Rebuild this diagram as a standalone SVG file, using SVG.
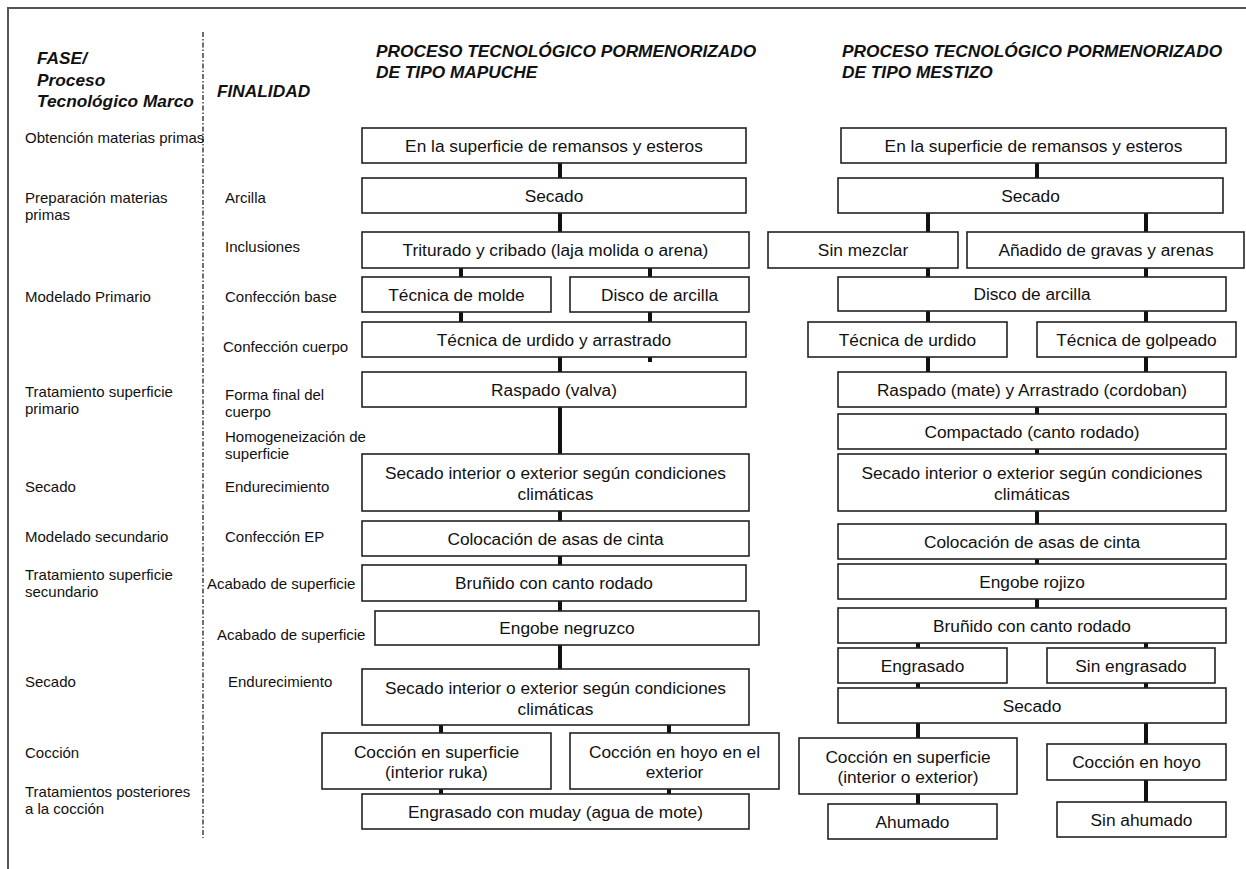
<svg xmlns="http://www.w3.org/2000/svg" width="1246" height="869" viewBox="0 0 1246 869">
<style>
.bg{fill:#fff}
.frame{stroke:#555;stroke-width:2;fill:none}
.dash{stroke:#222;stroke-width:1.3;stroke-dasharray:5 2 1.5 2;fill:none}
.box{fill:#fff;stroke:#222;stroke-width:1.6}
.conn{stroke:#111;stroke-width:4;fill:none}
text{font-family:"Liberation Sans",Arial,sans-serif;fill:#111}
.t{font-size:17.3px;text-anchor:middle}
.lbl{font-size:15px}
.hdr{font-size:17.3px;font-weight:bold;font-style:italic}
</style>
<rect class="bg" x="0" y="0" width="1246" height="869"/>
<g id="frame">
<path class="frame" d="M8,869 V8 H1246"/>
<line class="dash" x1="203" y1="32" x2="203" y2="838"/>
</g>
<g id="headers">
<text class="hdr" x="37" y="64">FASE/</text>
<text class="hdr" x="37" y="85.5">Proceso</text>
<text class="hdr" x="37" y="107">Tecnológico Marco</text>
<text class="hdr" x="217" y="97">FINALIDAD</text>
<text class="hdr" x="376" y="57">PROCESO TECNOLÓGICO PORMENORIZADO</text>
<text class="hdr" x="376" y="78">DE TIPO MAPUCHE</text>
<text class="hdr" x="842" y="57">PROCESO TECNOLÓGICO PORMENORIZADO</text>
<text class="hdr" x="842" y="78">DE TIPO MESTIZO</text>
</g>
<g id="fase-labels">
<text class="lbl" x="25" y="143">Obtención materias primas</text>
<text class="lbl" x="25" y="203">Preparación materias</text>
<text class="lbl" x="25" y="220">primas</text>
<text class="lbl" x="25" y="302">Modelado Primario</text>
<text class="lbl" x="25" y="397">Tratamiento superficie</text>
<text class="lbl" x="25" y="414">primario</text>
<text class="lbl" x="25" y="492">Secado</text>
<text class="lbl" x="25" y="542">Modelado secundario</text>
<text class="lbl" x="25" y="580">Tratamiento superficie</text>
<text class="lbl" x="25" y="597">secundario</text>
<text class="lbl" x="25" y="687">Secado</text>
<text class="lbl" x="25" y="758">Cocción</text>
<text class="lbl" x="25" y="797">Tratamientos posteriores</text>
<text class="lbl" x="25" y="814">a la cocción</text>
</g>
<g id="finalidad-labels">
<text class="lbl" x="225" y="203">Arcilla</text>
<text class="lbl" x="225" y="252">Inclusiones</text>
<text class="lbl" x="225" y="302">Confección base</text>
<text class="lbl" x="223" y="352">Confección cuerpo</text>
<text class="lbl" x="225" y="400">Forma final del</text>
<text class="lbl" x="225" y="417">cuerpo</text>
<text class="lbl" x="225" y="442">Homogeneización de</text>
<text class="lbl" x="225" y="459">superficie</text>
<text class="lbl" x="225" y="492">Endurecimiento</text>
<text class="lbl" x="225" y="542">Confección EP</text>
<text class="lbl" x="207" y="589">Acabado de superficie</text>
<text class="lbl" x="217" y="640">Acabado de superficie</text>
<text class="lbl" x="228" y="687">Endurecimiento</text>
</g>
<g id="connectors">
<path class="conn" d="M560,163V178 M560,213V232 M461,268V277 M461,312V322 M650,268V277 M650,312V322 M650,357V362 M560,357V372 M560,407V454 M560,511V521 M560,556V565 M560,601V611 M560,645V669 M441,725V733 M441,789V794 M669,725V733 M669,789V794"/>
<path class="conn" d="M1037,163V178 M928,213V232 M928,268V277 M928,311V322 M928,357V372 M1146,213V232 M1146,268V277 M1146,311V322 M1146,357V372 M1037,407V414 M1037,449V454 M1037,511V524 M1037,559V564 M1037,599V608 M918,643V648 M918,683V688 M918,723V738 M918,794V804 M1146,643V648 M1146,683V688 M1146,723V744 M1146,780V802"/>
</g>
<g id="m1"><rect class="box" x="362" y="128" width="384" height="35"/><text class="t" x="554" y="152">En la superficie de remansos y esteros</text></g>
<g id="m2"><rect class="box" x="362" y="178" width="384" height="35"/><text class="t" x="554" y="202">Secado</text></g>
<g id="m3"><rect class="box" x="362" y="232" width="387" height="36"/><text class="t" x="555.5" y="256">Triturado y cribado (laja molida o arena)</text></g>
<g id="m4a"><rect class="box" x="362" y="277" width="189" height="35"/><text class="t" x="456.5" y="301">Técnica de molde</text></g>
<g id="m4b"><rect class="box" x="570" y="277" width="179" height="35"/><text class="t" x="659.5" y="301">Disco de arcilla</text></g>
<g id="m5"><rect class="box" x="362" y="322" width="384" height="35"/><text class="t" x="554" y="346">Técnica de urdido y arrastrado</text></g>
<g id="m6"><rect class="box" x="362" y="372" width="384" height="35"/><text class="t" x="554" y="396">Raspado (valva)</text></g>
<g id="m7"><rect class="box" x="362" y="454" width="387" height="57"/><text class="t" x="555.5" y="479">Secado interior o exterior según condiciones</text><text class="t" x="555.5" y="500">climáticas</text></g>
<g id="m8"><rect class="box" x="362" y="521" width="387" height="35"/><text class="t" x="555.5" y="545">Colocación de asas de cinta</text></g>
<g id="m9"><rect class="box" x="362" y="565" width="384" height="36"/><text class="t" x="554" y="589">Bruñido con canto rodado</text></g>
<g id="m10"><rect class="box" x="375" y="611" width="384" height="34"/><text class="t" x="567" y="634">Engobe negruzco</text></g>
<g id="m11"><rect class="box" x="362" y="669" width="387" height="56"/><text class="t" x="555.5" y="694">Secado interior o exterior según condiciones</text><text class="t" x="555.5" y="715">climáticas</text></g>
<g id="m12a"><rect class="box" x="322" y="733" width="229" height="56"/><text class="t" x="436.5" y="758">Cocción en superficie</text><text class="t" x="436.5" y="778">(interior ruka)</text></g>
<g id="m12b"><rect class="box" x="570" y="733" width="209" height="56"/><text class="t" x="674.5" y="758">Cocción en hoyo en el</text><text class="t" x="674.5" y="778">exterior</text></g>
<g id="m13"><rect class="box" x="362" y="794" width="387" height="35"/><text class="t" x="555.5" y="818">Engrasado con muday (agua de mote)</text></g>
<g id="z1"><rect class="box" x="841" y="128" width="385" height="35"/><text class="t" x="1033.5" y="152">En la superficie de remansos y esteros</text></g>
<g id="z2"><rect class="box" x="838" y="178" width="385" height="35"/><text class="t" x="1030.5" y="202">Secado</text></g>
<g id="z3a"><rect class="box" x="768" y="232" width="190" height="36"/><text class="t" x="863" y="256">Sin mezclar</text></g>
<g id="z3b"><rect class="box" x="967" y="232" width="277" height="36"/><text class="t" x="1106" y="256">Añadido de gravas y arenas</text></g>
<g id="z4"><rect class="box" x="838" y="277" width="388" height="34"/><text class="t" x="1032" y="300">Disco de arcilla</text></g>
<g id="z5a"><rect class="box" x="808" y="322" width="199" height="35"/><text class="t" x="907.5" y="346">Técnica de urdido</text></g>
<g id="z5b"><rect class="box" x="1037" y="322" width="199" height="35"/><text class="t" x="1136.5" y="346">Técnica de golpeado</text></g>
<g id="z6"><rect class="box" x="838" y="372" width="388" height="35"/><text class="t" x="1032" y="396">Raspado (mate) y Arrastrado (cordoban)</text></g>
<g id="z7"><rect class="box" x="838" y="414" width="388" height="35"/><text class="t" x="1032" y="438">Compactado (canto rodado)</text></g>
<g id="z8"><rect class="box" x="838" y="454" width="388" height="57"/><text class="t" x="1032" y="479">Secado interior o exterior según condiciones</text><text class="t" x="1032" y="500">climáticas</text></g>
<g id="z9"><rect class="box" x="838" y="524" width="388" height="35"/><text class="t" x="1032" y="548">Colocación de asas de cinta</text></g>
<g id="z10"><rect class="box" x="838" y="564" width="388" height="35"/><text class="t" x="1032" y="588">Engobe rojizo</text></g>
<g id="z11"><rect class="box" x="838" y="608" width="388" height="35"/><text class="t" x="1032" y="632">Bruñido con canto rodado</text></g>
<g id="z12a"><rect class="box" x="838" y="648" width="169" height="35"/><text class="t" x="922.5" y="672">Engrasado</text></g>
<g id="z12b"><rect class="box" x="1047" y="648" width="168" height="35"/><text class="t" x="1131" y="672">Sin engrasado</text></g>
<g id="z13"><rect class="box" x="838" y="688" width="388" height="35"/><text class="t" x="1032" y="712">Secado</text></g>
<g id="z14a"><rect class="box" x="799" y="738" width="218" height="56"/><text class="t" x="908" y="763">Cocción en superficie</text><text class="t" x="908" y="783">(interior o exterior)</text></g>
<g id="z14b"><rect class="box" x="1047" y="744" width="179" height="36"/><text class="t" x="1136.5" y="768">Cocción en hoyo</text></g>
<g id="z15a"><rect class="box" x="828" y="804" width="169" height="35"/><text class="t" x="912.5" y="828">Ahumado</text></g>
<g id="z15b"><rect class="box" x="1057" y="802" width="169" height="35"/><text class="t" x="1141.5" y="826">Sin ahumado</text></g>
</svg>
